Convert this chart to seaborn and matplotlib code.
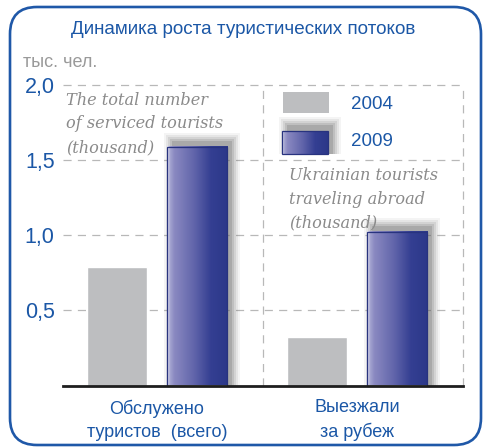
import numpy as np
import pandas as pd
import matplotlib
matplotlib.use("Agg")
import matplotlib.pyplot as plt
import seaborn as sns
from matplotlib.patches import FancyBboxPatch, Rectangle
from matplotlib.colors import LinearSegmentedColormap

categories = ["Обслужено\nтуристов  (всего)", "Выезжали\nза рубеж"]
years = ["2004", "2009"]
values_2004 = [0.79, 0.32]
values_2009 = [1.59, 1.02]
y_ticks = [0.5, 1.0, 1.5, 2.0]
y_tick_labels = ["0,5", "1,0", "1,5", "2,0"]
title = "Динамика роста туристических потоков"
unit = "тыс. чел."
note_left = "The total number\nof serviced tourists\n(thousand)"
note_right = "Ukrainian tourists\ntraveling abroad\n(thousand)"

BLUE_TXT = "#1b57a6"
GRAY_BAR = "#bdbec0"
NAVY = "#2e3a8c"
GRID = "#b8b8b8"

W, H = 485, 448
sns.set_theme(style="white")
plt.rcParams['font.family'] = ['Liberation Sans', 'DejaVu Sans']

fig = plt.figure(figsize=(W / 100, H / 100), dpi=100)
ax = fig.add_axes([63 / W, 1 - 385.5 / H, 400 / W, 300.5 / H])

df = pd.DataFrame({
    "cat": categories * 2,
    "year": [years[0]] * len(categories) + [years[1]] * len(categories),
    "value": values_2004 + values_2009,
})
sns.barplot(data=df, x="cat", y="value", hue="year", hue_order=years,
            palette={years[0]: GRAY_BAR, years[1]: NAVY}, width=0.8, gap=0.24,
            saturation=1, legend=False, errorbar=None, ax=ax)

XL = (-0.47, 1.53)
YL = (0, 2.0)
ax.set_xlim(*XL)
ax.set_ylim(*YL)
pxx = (XL[1] - XL[0]) / 400.0
pxy = (YL[1] - YL[0]) / 300.5

def dx(px):
    return XL[0] + (px - 63) * pxx

def dy(py):
    return (385.5 - py) * pxy

# grid
dash = (0, (6.5, 5))
for yv in y_ticks:
    ax.axhline(yv, color=GRID, lw=0.9, ls=dash, zorder=0.5, clip_on=False)
ax.axvline(0.53, color=GRID, lw=0.9, ls=dash, zorder=0.5)
ax.axvline(XL[1], color=GRID, lw=0.9, ls=dash, zorder=0.5, clip_on=False)

for s in ["top", "right", "left"]:
    ax.spines[s].set_visible(False)
ax.spines["bottom"].set_color("#1e1e1e")
ax.spines["bottom"].set_linewidth(2)
ax.spines["bottom"].set_zorder(6)

ax.set_xlabel("")
ax.set_ylabel("")
ax.set_yticks(y_ticks)
ax.set_yticklabels(y_tick_labels, color=BLUE_TXT, fontsize=15.5)
ax.tick_params(axis="y", length=0, pad=6)
ax.tick_params(axis="x", length=0, pad=10, labelsize=13, labelcolor=BLUE_TXT)
for lab in ax.get_xticklabels():
    lab.set_linespacing(1.45)

cmap = LinearSegmentedColormap.from_list("g", [
    (0.0, "#eeeef7"), (0.05, "#a4a4d0"), (0.12, "#8a89c1"),
    (0.45, "#6064aa"), (0.72, "#343f92"), (1.0, "#2c3889")])
grad = np.linspace(0, 1, 256).reshape(1, -1)

def shadow(x, y0, w, h, zorder):
    for e, a in [(8, 0.07), (6, 0.10), (4, 0.14), (2, 0.18), (0, 0.24)]:
        r = Rectangle((x + (5 - e) * pxx, y0),
                      w + (2 * e) * pxx,
                      h + (6 + e) * pxy,
                      facecolor="#666666", edgecolor="none", alpha=a,
                      zorder=zorder, clip_on=False)
        ax.add_patch(r)

def gradient_bar(x, y0, w, h, zorder):
    ax.imshow(grad, extent=[x, x + w, y0, y0 + h], cmap=cmap, aspect="auto",
              zorder=zorder, interpolation="bilinear", clip_on=False)

for bar in ax.containers[0]:
    bar.set_zorder(3)
for bar in ax.containers[1]:
    x, w, h = bar.get_x(), bar.get_width(), bar.get_height()
    shadow(x, 0, w, h, 2)
    gradient_bar(x, 0, w, h, 3)
    bar.set_facecolor("none")
    bar.set_edgecolor("#28337f")
    bar.set_linewidth(0.9)
    bar.set_zorder(4)

# legend swatches
gx0, gx1 = dx(283), dx(329)
ax.add_patch(Rectangle((gx0, dy(113)), gx1 - gx0, dy(92) - dy(113),
                       facecolor=GRAY_BAR, edgecolor="none", zorder=3, clip_on=False))
bx0, bx1 = dx(282), dx(328)
shadow(bx0, dy(154), bx1 - bx0, dy(131) - dy(154), 2)
gradient_bar(bx0, dy(154), bx1 - bx0, dy(131) - dy(154), 3)
ax.add_patch(Rectangle((bx0, dy(154)), bx1 - bx0, dy(131) - dy(154),
                       facecolor="none", edgecolor="#28337f", lw=0.9, zorder=4, clip_on=False))
ax.set_xlim(*XL)
ax.set_ylim(*YL)

def ftext(x, y, s, **kw):
    fig.text(x / W, 1 - y / H, s, **kw)

ftext(351, 104, years[0], color=BLUE_TXT, fontsize=13.5, va="center", ha="left")
ftext(351, 142, years[1], color=BLUE_TXT, fontsize=13.5, va="center", ha="left")

ftext(243.5, 30, title, color=BLUE_TXT, fontsize=13.6, ha="center", va="center")
ftext(23, 62, unit, color="#9a9a9a", fontsize=13, ha="left", va="center")

serif = dict(family=["DejaVu Serif"], style="italic", color="#8a8a8a",
             fontsize=11.6, ha="left", va="top", linespacing=1.5)
ftext(66, 92, note_left, **serif)
ftext(289, 167, note_right, **serif, zorder=5)

# rounded frame
box = FancyBboxPatch((10 / 100, (H - 445) / 100), (481 - 10) / 100, (445 - 7) / 100,
                     boxstyle="round,pad=0,rounding_size=0.27",
                     transform=fig.dpi_scale_trans, facecolor="none",
                     edgecolor="#1f58a8", lw=1.9, zorder=10)
fig.patches.append(box)

fig.savefig("out.png", dpi=100)
